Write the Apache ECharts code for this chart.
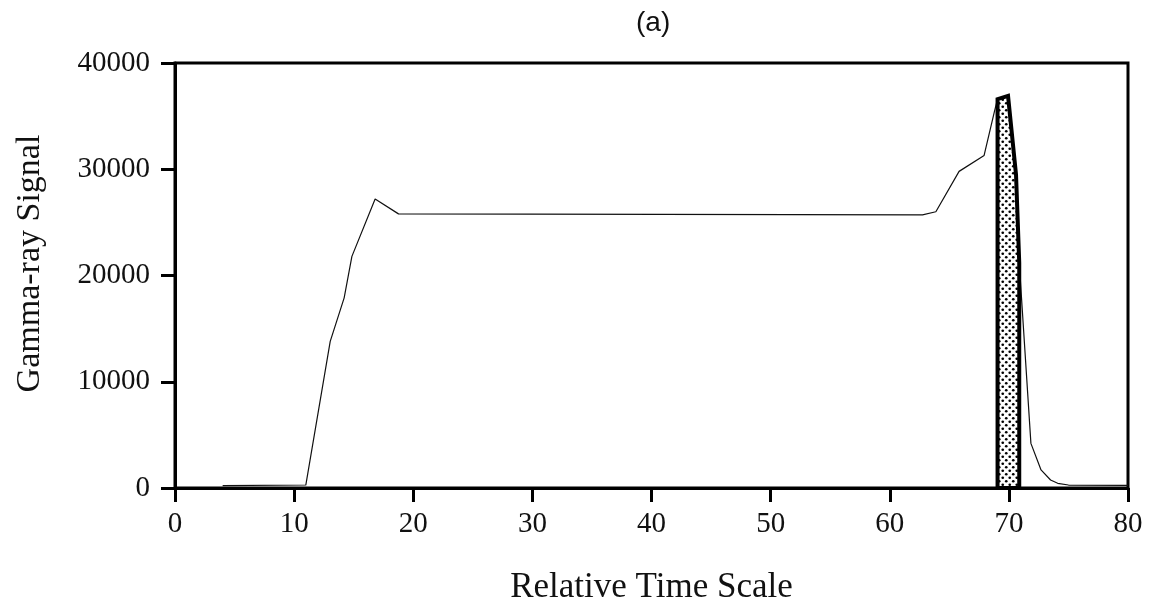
<!DOCTYPE html>
<html>
<head>
<meta charset="utf-8">
<script src="https://cdn.jsdelivr.net/npm/echarts@6/dist/echarts.min.js"></script>
<style>html,body{margin:0;padding:0;background:#fff}#c{width:1151px;height:606px}</style>
</head>
<body>
<div id="c"></div>
<script>
// ---- data ----
const timeValues   = [4, 10.98, 13.03, 14.2, 14.85, 16.8, 18.76, 62.75, 63.87, 65.82, 67.92, 68.8, 69.05, 69.93, 70.6, 70.87, 71.85, 72.7, 73.5, 74.1, 75, 80];
const signalValues = [230, 280, 13800, 17900, 21800, 27200, 25800, 25700, 26000, 29800, 31300, 35500, 36600, 36900, 29500, 21200, 4200, 1700, 750, 440, 280, 250];
const peakStart = 69.05;
const peakEnd = 70.87;
const xTicks = [0, 10, 20, 30, 40, 50, 60, 70, 80];
const yTicks = [0, 10000, 20000, 30000, 40000];
const titleText = '(a)';
const xName = 'Relative Time Scale';
const yName = 'Gamma-ray Signal';

const signal = timeValues.map((t, i) => [t, signalValues[i]]);
const peakPoly = [[peakStart, 0]].concat(signal.filter(p => p[0] >= peakStart && p[0] <= peakEnd)).concat([[peakEnd, 0]]);

// dot pattern
const pc = document.createElement('canvas');
pc.width = 7; pc.height = 7;
const g = pc.getContext('2d');
g.fillStyle = '#fff'; g.fillRect(0, 0, 7, 7);
g.fillStyle = '#000';
g.beginPath(); g.arc(1.75, 1.75, 1.35, 0, Math.PI * 2); g.fill();
g.beginPath(); g.arc(5.25, 5.25, 1.35, 0, Math.PI * 2); g.fill();

const serif = '"Liberation Serif", "Times New Roman", serif';
const chart = echarts.init(document.getElementById('c'), null, {renderer: 'canvas'});
chart.setOption({
  animation: false,
  backgroundColor: '#fff',
  title: {
    text: titleText, left: 631, top: 4,
    textStyle: {fontFamily: '"Liberation Sans", Arial, sans-serif', fontSize: 28, fontWeight: 'normal', color: '#111'}
  },
  grid: {left: 175, right: 23, top: 63, bottom: 118, outerBoundsMode: 'none', containLabel: false, show: true, borderColor: '#000', borderWidth: 3, backgroundColor: 'transparent'},
  xAxis: {
    type: 'value', min: xTicks[0], max: xTicks[xTicks.length - 1], interval: 10,
    name: xName, nameLocation: 'middle', nameGap: 82,
    nameTextStyle: {fontFamily: serif, fontSize: 35, color: '#111'},
    axisLine: {show: true, onZero: false, lineStyle: {color: '#000', width: 3}},
    axisTick: {show: true, inside: false, length: 14, lineStyle: {color: '#000', width: 3}},
    axisLabel: {margin: 22, fontFamily: serif, fontSize: 29, color: '#111', formatter: v => String(v)},
    splitLine: {show: false}
  },
  yAxis: {
    type: 'value', min: yTicks[0], max: yTicks[yTicks.length - 1], interval: 10000,
    name: yName, nameLocation: 'middle', nameGap: 128, nameRotate: 90,
    nameTextStyle: {fontFamily: serif, fontSize: 34, color: '#111', padding: [0, 0, 0, 24]},
    axisLine: {show: true, lineStyle: {color: '#000', width: 3}},
    axisTick: {show: true, inside: false, length: 14, lineStyle: {color: '#000', width: 3}},
    axisLabel: {margin: 25, fontFamily: serif, fontSize: 29, color: '#111', formatter: v => String(v)},
    splitLine: {show: false}
  },
  series: [
    {
      type: 'line', data: signal, symbol: 'none', smooth: false,
      lineStyle: {color: '#111', width: 1.2}, z: 2
    },
    {
      type: 'custom', data: [0], z: 3,
      renderItem: function (params, api) {
        const pts = peakPoly.map(p => api.coord(p));
        return {
          type: 'polygon',
          shape: {points: pts},
          style: {fill: {image: pc, repeat: 'repeat'}, stroke: '#000', lineWidth: 4, lineJoin: 'miter'}
        };
      }
    }
  ]
});
</script>
</body>
</html>
